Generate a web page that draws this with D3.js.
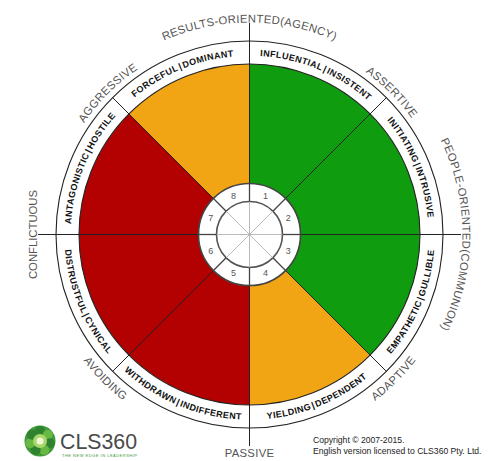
<!DOCTYPE html>
<html>
<head>
<meta charset="utf-8">
<script src="https://cdn.jsdelivr.net/npm/d3@7"></script>
<style>
	body { margin: 0; background: #fff; }
	svg { display: block; font-family: 'Liberation Sans', Arial, sans-serif; }
</style>
</head>
<body>
<script>
// Sector styles, clockwise from 12 o'clock
const styles = ['INFLUENTIAL|INSISTENT', 'INITIATING|INTRUSIVE', 'EMPATHETIC|GULLIBLE', 'YIELDING|DEPENDENT',
	'WITHDRAWN|INDIFFERENT', 'DISTRUSTFUL|CYNICAL', 'ANTAGONISTIC|HOSTILE', 'FORCEFUL|DOMINANT'];
const zones = ['good', 'good', 'good', 'mid', 'bad', 'bad', 'bad', 'mid'];
const sectorNumbers = ['1', '2', '3', '4', '5', '6', '7', '8'];
// Diagonal labels (at 45, 135, 225, 315 degrees)
const diagonalLabels = ['ASSERTIVE', 'ADAPTIVE', 'AVOIDING', 'AGGRESSIVE'];
// Axis labels: top, right, bottom, left
const axisLabels = ['RESULTS-ORIENTED(AGENCY)', 'PEOPLE-ORIENTED(COMMUNION)', 'PASSIVE', 'CONFLICTUOUS'];
const copyright = ['Copyright © 2007-2015.', 'English version licensed to CLS360 Pty. Ltd.'];

const width = 490;
const height = 461;
const cx = 249.5;
const cy = 234.5;

const rHub = 33;
const rHubOuter = 51;
const rFill = 170.5;
const rRing = 193.5;
const rAxis = 211.5;

const colour = d3.scaleOrdinal().domain(['good', 'mid', 'bad']).range(['#0f9c0f', '#f1a414', '#b30000']);

const svg = d3.select('body').append('svg').attr('width', width).attr('height', height);
const g = svg.append('g').attr('transform', `translate(${cx},${cy})`);

const ang = d3.scaleLinear().domain([0, styles.length]).range([0, 2 * Math.PI]);
const pt = (a, r) => [r * Math.sin(a), -r * Math.cos(a)];

// Coloured sectors
const sectorArc = d3.arc().innerRadius(0).outerRadius(rFill);
g.selectAll('path.sector')
	.data(styles)
	.enter()
	.append('path')
	.attr('class', 'sector')
	.attr('d', (d, i) => sectorArc({startAngle: ang(i), endAngle: ang(i + 1)}))
	.attr('fill', (d, i) => colour(zones[i]));

// Label ring
g.append('circle').attr('r', rFill).attr('fill', 'none').attr('stroke', '#222').attr('stroke-width', 1.1);
g.append('circle').attr('r', rRing).attr('fill', 'none').attr('stroke', '#222').attr('stroke-width', 1.1);

// Divider lines (axis ones run further out)
g.selectAll('line.div')
	.data(styles)
	.enter()
	.append('line')
	.attr('class', 'div')
	.attr('x1', (d, i) => pt(ang(i), rHub)[0])
	.attr('y1', (d, i) => pt(ang(i), rHub)[1])
	.attr('x2', (d, i) => pt(ang(i), i % 2 === 0 ? rAxis : rRing)[0])
	.attr('y2', (d, i) => pt(ang(i), i % 2 === 0 ? rAxis : rRing)[1])
	.attr('stroke', '#222')
	.attr('stroke-width', 1);

// Centre hub
g.append('circle').attr('r', rHubOuter).attr('fill', '#fff').attr('stroke', '#444').attr('stroke-width', 1.6);
g.append('circle').attr('r', rHub).attr('fill', '#fff').attr('stroke', '#555').attr('stroke-width', 1.6);
g.selectAll('line.hub')
	.data(styles)
	.enter()
	.append('line')
	.attr('x1', (d, i) => pt(ang(i), rHub)[0])
	.attr('y1', (d, i) => pt(ang(i), rHub)[1])
	.attr('x2', (d, i) => pt(ang(i), rHubOuter)[0])
	.attr('y2', (d, i) => pt(ang(i), rHubOuter)[1])
	.attr('stroke', '#444')
	.attr('stroke-width', 1.3);
g.selectAll('line.spoke')
	.data(styles)
	.enter()
	.append('line')
	.attr('x1', 0)
	.attr('y1', 0)
	.attr('x2', (d, i) => pt(ang(i), rHub)[0])
	.attr('y2', (d, i) => pt(ang(i), rHub)[1])
	.attr('stroke', '#aaa')
	.attr('stroke-width', 0.8);
g.selectAll('text.num')
	.data(sectorNumbers)
	.enter()
	.append('text')
	.attr('x', (d, i) => pt(ang(i + 0.5), 42)[0])
	.attr('y', (d, i) => pt(ang(i + 0.5), 42)[1])
	.attr('text-anchor', 'middle')
	.attr('dominant-baseline', 'central')
	.attr('font-size', 9)
	.attr('fill', '#555')
	.text((d) => d);

// Curved text helper
const defs = svg.append('defs');
let pathId = 0;
function curvedText(label, a0, a1, r, reversed, attrs) {
	const id = 'tp' + pathId++;
	const p0 = pt(a0, r);
	const p1 = pt(a1, r);
	const d = reversed
		? `M${p1[0]},${p1[1]} A${r},${r} 0 0 0 ${p0[0]},${p0[1]}`
		: `M${p0[0]},${p0[1]} A${r},${r} 0 0 1 ${p1[0]},${p1[1]}`;
	defs.append('path').attr('id', id).attr('d', d).attr('transform', `translate(${cx},${cy})`);
	const t = svg.append('text');
	Object.entries(attrs).forEach(([k, v]) => t.attr(k, v));
	t.append('textPath')
		.attr('href', '#' + id)
		.attr('startOffset', '50%')
		.attr('text-anchor', 'middle')
		.text(label);
}

// Style labels in the ring
styles.forEach((s, i) => {
	const mid = ang(i + 0.5);
	const rev = mid > Math.PI / 2 && mid < (3 * Math.PI) / 2;
	curvedText(s.replace('|', '\u200a|\u200a'), ang(i) - 0.3, ang(i + 1) + 0.3, rev ? 185.2 : 178.8, rev, {
		'font-size': 9,
		'font-weight': 'bold',
		'letter-spacing': 0.4,
		fill: '#111'
	});
});

// Diagonal labels
const grey = {'font-size': 11.3, fill: '#555', 'letter-spacing': 0.3};
diagonalLabels.forEach((s, i) => {
	const mid = ang(1 + 2 * i);
	const rev = mid > Math.PI / 2 && mid < (3 * Math.PI) / 2;
	curvedText(s, mid - 0.6, mid + 0.6, rev ? 208.5 : 199.5, rev, grey);
});

// Axis labels
curvedText(axisLabels[0], -0.8, 0.8, 212, false, grey);
curvedText(axisLabels[1], Math.PI / 2 - 0.8, Math.PI / 2 + 0.8, 213, false, grey);
svg.append('text')
	.attr('x', cx)
	.attr('y', cy + 222)
	.attr('text-anchor', 'middle')
	.attr('font-size', 11.3)
	.attr('fill', '#555')
	.attr('letter-spacing', 0.3)
	.text(axisLabels[2]);
svg.append('text')
	.attr('transform', `translate(${cx - 212.5},${cy}) rotate(-90)`)
	.attr('text-anchor', 'middle')
	.attr('font-size', 11.3)
	.attr('fill', '#555')
	.text(axisLabels[3]);

// Logo
const logo = svg.append('g').attr('transform', 'translate(40,441)');
logo.append('circle').attr('r', 15.5).attr('fill', '#3e9a3a');
d3.range(7).forEach((k) => {
	const a = (k / 7) * 2 * Math.PI;
	logo.append('circle')
		.attr('cx', 10 * Math.sin(a))
		.attr('cy', -10 * Math.cos(a))
		.attr('r', 5)
		.attr('fill', k % 2 ? '#6dbb45' : '#2d7f2d')
		.attr('opacity', 0.9);
});
logo.append('circle').attr('r', 7).attr('fill', '#a9d66b');
logo.append('circle').attr('r', 3.5).attr('fill', '#eef7d8');
svg.append('text')
	.attr('x', 60)
	.attr('y', 448.5)
	.attr('font-size', 21.5)
	.attr('textLength', 77)
	.attr('lengthAdjust', 'spacingAndGlyphs')
	.attr('fill', '#4a4a4a')
	.text('CLS360');
svg.append('text')
	.attr('x', 62)
	.attr('y', 456.5)
	.attr('font-size', 4)
	.attr('textLength', 75)
	.attr('fill', '#3e9a3a')
	.text('THE NEW EDGE IN LEADERSHIP');

// Copyright
svg.selectAll('text.copy')
	.data(copyright)
	.enter()
	.append('text')
	.attr('x', 313)
	.attr('y', (d, i) => 443 + i * 10.5)
	.attr('font-size', 8.6)
	.attr('fill', '#222')
	.text((d) => d);
</script>
</body>
</html>
